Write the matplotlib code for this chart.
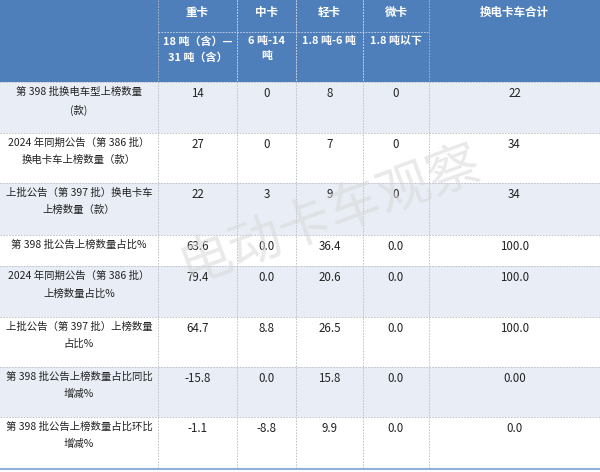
import matplotlib.pyplot as plt
from matplotlib.patches import Rectangle

plt.rcParams['font.family'] = 'Noto Sans CJK SC'

# data
categories = ["重卡", "中卡", "轻卡", "微卡", "换电卡车合计"]
sub_labels = ["18 吨（含）—\n31 吨（含）", "6 吨-14\n吨", "1.8 吨-6 吨", "1.8 吨以下", ""]
row_labels = [
    "第 398 批换电车型上榜数量\n(款)",
    "2024 年同期公告（第 386 批）\n换电卡车上榜数量（款）",
    "上批公告（第 397 批）换电卡车\n上榜数量（款）",
    "第 398 批公告上榜数量占比%",
    "2024 年同期公告（第 386 批）\n上榜数量占比%",
    "上批公告（第 397 批）上榜数量\n占比%",
    "第 398 批公告上榜数量占比同比\n增减%",
    "第 398 批公告上榜数量占比环比\n增减%",
]
values = [
    ["14", "0", "8", "0", "22"],
    ["27", "0", "7", "0", "34"],
    ["22", "3", "9", "0", "34"],
    ["63.6", "0.0", "36.4", "0.0", "100.0"],
    ["79.4", "0.0", "20.6", "0.0", "100.0"],
    ["64.7", "8.8", "26.5", "0.0", "100.0"],
    ["-15.8", "0.0", "15.8", "0.0", "0.00"],
    ["-1.1", "-8.8", "9.9", "0.0", "0.0"],
]

# layout (pixels)
col_x = [0, 158, 237, 296, 363, 429, 600]
row_y = [82, 133, 183, 235, 266, 317, 367, 417, 468]
blue = "#4f7fba"
light = "#e9eef6"
grid = "#b8bcc4"
fs = 8.3

fig = plt.figure(figsize=(6, 4.72), dpi=100)
ax = fig.add_axes([0, 0, 1, 1])
ax.set_xlim(0, 600)
ax.set_ylim(472, 0)
ax.axis('off')

ax.add_patch(Rectangle((0, 0), 600, 82, color=blue, lw=0))
for i in range(len(row_labels)):
    if i % 2 == 0:
        ax.add_patch(Rectangle((0, row_y[i]), 600, row_y[i+1]-row_y[i], color=light, lw=0))

# header text
for j, c in enumerate(categories):
    cx = (col_x[j+1] + col_x[j+2]) / 2
    ax.text(cx, 6, c, ha='center', va='top', color='white', fontsize=fs, weight='bold')
    if sub_labels[j]:
        ax.text(cx, 36, sub_labels[j], ha='center', va='top', color='white', fontsize=7.9,
                weight='bold', linespacing=1.65)

# body text
for i, lab in enumerate(row_labels):
    y0 = row_y[i] + 5
    ax.text(col_x[1] / 2, y0, lab, ha='center', va='top', fontsize=7.5, color='#222222',
            linespacing=1.85)
    for j, v in enumerate(values[i]):
        cx = (col_x[j+1] + col_x[j+2]) / 2
        ax.text(cx, y0, v, ha='center', va='top', fontsize=fs, color='#222222')

# grid lines
for x in col_x[1:-1]:
    ax.plot([x, x], [0, 468], color=grid, lw=0.6, ls=(0, (2, 1.5)))
for y in row_y[:-1]:
    ax.plot([0, 600], [y, y], color=grid, lw=0.6, ls=(0, (2, 1.5)))
for x in col_x[2:-2]:
    ax.plot([x, x], [0, 82], color='#c9d6ea', lw=0.6, ls=(0, (2, 1.5)))
ax.plot([col_x[1], col_x[-2]], [32, 32], color='#c9d6ea', lw=0.6, ls=(0, (2, 1.5)))
ax.plot([0, 600], [469, 469], color='#8fb0d8', lw=1.5)

# watermark
ax.text(330, 215, "电动卡车观察", ha='center', va='center', fontsize=38, rotation=20,
        color='#d8d8d8', alpha=0.55)

fig.savefig('out.png', dpi=100)
